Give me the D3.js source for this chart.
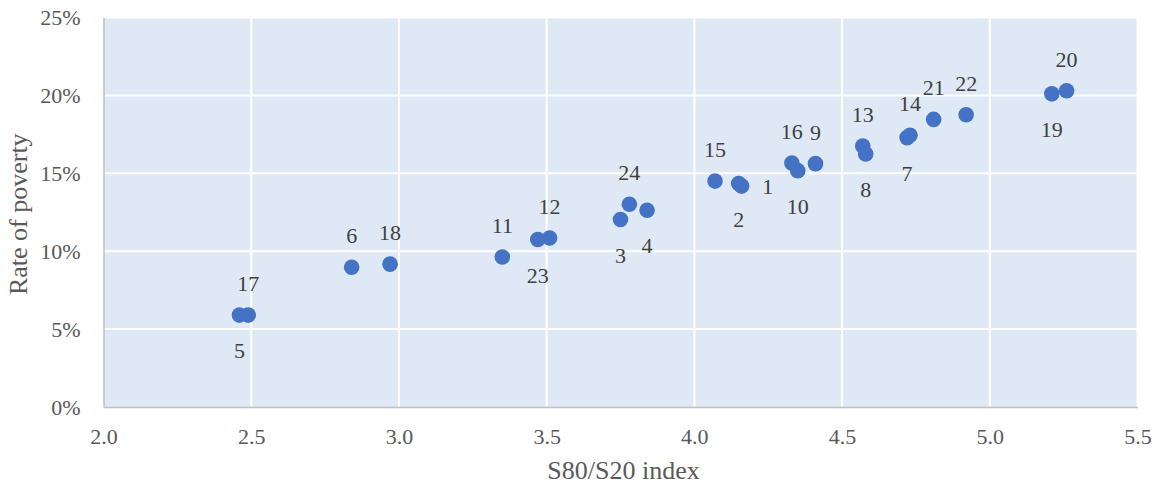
<!DOCTYPE html>
<html>
<head>
<meta charset="utf-8">
<script src="https://cdn.jsdelivr.net/npm/d3@7"></script>
<style>
  body { margin: 0; background: #fff; }
  svg { display: block; font-family: "Liberation Serif", "Times New Roman", serif; }
</style>
</head>
<body>
<svg id="canvas" width="1160" height="485"></svg>
<script>
// country ids, S80/S20 index, poverty rate
var ids     = [1, 2, 3, 4, 5, 6, 7, 8, 9, 10, 11, 12, 13, 14, 15, 16, 17, 18, 19, 20, 21, 22, 23, 24];
var s80s20  = [4.16, 4.15, 3.75, 3.84, 2.46, 2.84, 4.72, 4.58, 4.41, 4.35, 3.35, 3.51, 4.57, 4.73, 4.07, 4.33, 2.49, 2.97, 5.21, 5.26, 4.81, 4.92, 3.47, 3.78];
var poverty = [0.1418, 0.1434, 0.1203, 0.1263, 0.059, 0.0897, 0.1729, 0.1624, 0.1562, 0.1517, 0.0963, 0.1085, 0.1675, 0.1744, 0.145, 0.1566, 0.059, 0.0917, 0.201, 0.203, 0.1846, 0.1876, 0.1075, 0.1301];
var xTicks  = [2.0, 2.5, 3.0, 3.5, 4.0, 4.5, 5.0, 5.5];
var yTicks  = [0, 0.05, 0.10, 0.15, 0.20, 0.25];

// where each label sits relative to its dot
var labelSide = ['right', 'below', 'below', 'below', 'below', 'above', 'below', 'below', 'above', 'below', 'above', 'above',
                 'above', 'above', 'above', 'above', 'above', 'above', 'below', 'above', 'above', 'above', 'below', 'above'];

var data = ids.map(function(id, i) {
    return { id: id, x: s80s20[i], y: poverty[i], side: labelSide[i] };
});

var plotL = 103.5, plotR = 1137.5, plotT = 17.5, plotB = 407;

var x = d3.scaleLinear().domain([2.0, 5.5]).range([plotL, plotR]);
var y = d3.scaleLinear().domain([0, 0.25]).range([plotB, plotT]);

var canvas = d3.select('#canvas');

canvas.append('rect')
    .attr('x', plotL)
    .attr('y', plotT)
    .attr('width', plotR - plotL)
    .attr('height', plotB - plotT)
    .attr('fill', '#dee9f5');

// grid
canvas.append('g')
    .selectAll('line')
    .data(xTicks.slice(1))
    .enter()
    .append('line')
    .attr('x1', function(d) { return x(d); })
    .attr('x2', function(d) { return x(d); })
    .attr('y1', plotT)
    .attr('y2', plotB)
    .attr('stroke', '#fff')
    .attr('stroke-width', 2);

canvas.append('g')
    .selectAll('line')
    .data(yTicks.slice(1))
    .enter()
    .append('line')
    .attr('x1', plotL)
    .attr('x2', plotR)
    .attr('y1', function(d) { return y(d); })
    .attr('y2', function(d) { return y(d); })
    .attr('stroke', '#fff')
    .attr('stroke-width', 2);

// axes
var xAxis = canvas.append('g')
    .attr('transform', 'translate(0,' + plotB + ')')
    .call(d3.axisBottom(x).tickValues(xTicks).tickFormat(d3.format('.1f')).tickSize(0).tickPadding(21));

var yAxis = canvas.append('g')
    .attr('transform', 'translate(' + plotL + ',0)')
    .call(d3.axisLeft(y).tickValues(yTicks).tickFormat(d3.format('.0%')).tickSize(0).tickPadding(23));

[xAxis, yAxis].forEach(function(a) {
    a.select('.domain').attr('stroke', '#bfbfbf').attr('stroke-width', 1.5);
    a.selectAll('text')
        .attr('fill', '#595959')
        .style('font-size', '22px')
        .style('font-family', '"Liberation Serif", "Times New Roman", serif');
});

// points
canvas.append('g')
    .selectAll('circle')
    .data(data)
    .enter()
    .append('circle')
    .attr('cx', function(d) { return x(d.x); })
    .attr('cy', function(d) { return y(d.y); })
    .attr('r', 7.8)
    .attr('fill', '#4472c4');

// labels
canvas.append('g')
    .selectAll('text')
    .data(data)
    .enter()
    .append('text')
    .attr('x', function(d) {
        return x(d.x) + (d.side === 'right' ? 26 : 0);
    })
    .attr('y', function(d) {
        var off = d.side === 'above' ? -32 : (d.side === 'below' ? 35 : 0);
        return y(d.y) + off + 8;
    })
    .attr('text-anchor', 'middle')
    .attr('fill', '#404040')
    .style('font-size', '22px')
    .text(function(d) { return d.id; });

// titles
canvas.append('text')
    .attr('x', (plotL + plotR) / 2 + 3)
    .attr('y', 479)
    .attr('text-anchor', 'middle')
    .attr('fill', '#595959')
    .style('font-size', '26px')
    .text('S80/S20 index');

canvas.append('text')
    .attr('transform', 'translate(27,' + ((plotT + plotB) / 2 + 2) + ') rotate(-90)')
    .attr('text-anchor', 'middle')
    .attr('fill', '#595959')
    .style('font-size', '26px')
    .text('Rate of poverty');
</script>
</body>
</html>
